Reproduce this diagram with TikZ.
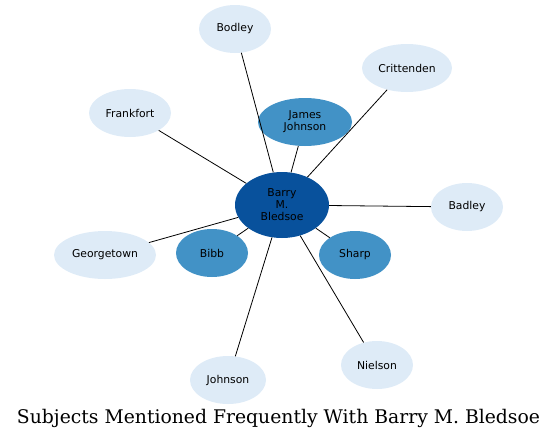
\documentclass[tikz,border=0pt]{standalone}
\usepackage{fontspec}
\setmainfont{DejaVu Sans}
\newfontfamily\titlefont{DejaVu Serif}
\usetikzlibrary{shapes.geometric}
\definecolor{cdark}{HTML}{08519C}
\definecolor{cmid}{HTML}{4292C6}
\definecolor{clight}{HTML}{DEEBF7}
\begin{document}
\begin{tikzpicture}[x=1pt,y=-1pt,
  ell/.style={ellipse,inner sep=0pt,font=\fontsize{10.8}{12}\selectfont,align=center},
  hub/.style={ell,fill=cdark,minimum width=94pt,minimum height=66pt},
  mid/.style={ell,fill=cmid},
  leaf/.style={ell,fill=clight},
  link/.style={draw=black,line width=0.8pt}]
\useasboundingbox (0,0) rectangle (557,440);
\node[hub] (barry) at (282,205) {Barry\\M.\\Bledsoe};
\node[mid,minimum width=94pt,minimum height=48pt] (james) at (305,122) {James\\Johnson};
\node[mid,minimum width=72pt,minimum height=48pt] (bibb) at (212,253) {Bibb};
\node[mid,minimum width=72pt,minimum height=48pt] (sharp) at (355,255) {Sharp};
\node[leaf,minimum width=72pt,minimum height=48pt] (bodley) at (235,29) {Bodley};
\node[leaf,minimum width=90pt,minimum height=48pt] (critt) at (407,68) {Crittenden};
\node[leaf,minimum width=82pt,minimum height=48pt] (frank) at (130,113) {Frankfort};
\node[leaf,minimum width=72pt,minimum height=48pt] (badley) at (467,207) {Badley};
\node[leaf,minimum width=102pt,minimum height=48pt] (george) at (105,255) {Georgetown};
\node[leaf,minimum width=76pt,minimum height=48pt] (johnson) at (228,380) {Johnson};
\node[leaf,minimum width=72pt,minimum height=48pt] (nielson) at (377,365) {Nielson};
\foreach \n in {james,bibb,sharp,bodley,critt,frank,badley,george,johnson,nielson}
  \draw[link] (barry) -- (\n);
\node (title) at (278.5,418) {\resizebox{523pt}{!}{\titlefont Subjects Mentioned Frequently With Barry M. Bledsoe}};
\end{tikzpicture}
\end{document}
